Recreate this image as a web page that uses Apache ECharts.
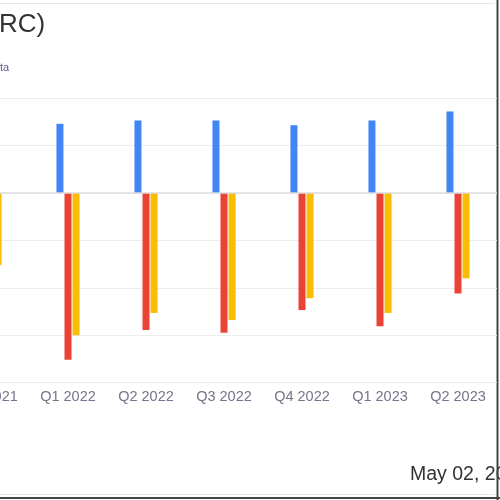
<!DOCTYPE html>
<html>
<head>
<meta charset="utf-8">
<script src="https://cdn.jsdelivr.net/npm/echarts@6/dist/echarts.min.js"></script>
<style>
html,body{margin:0;padding:0;background:#fff;overflow:hidden;width:500px;height:500px;position:relative;}
#chart{position:absolute;left:-49px;top:0;width:549px;height:500px;}
</style>
</head>
<body>
<div id="chart"></div>
<script>
var categories = ['Q4 2021', 'Q1 2022', 'Q2 2022', 'Q3 2022', 'Q4 2022', 'Q1 2023', 'Q2 2023'];
var blueValues = [1.45, 1.46, 1.53, 1.53, 1.43, 1.53, 1.72];
var redValues = [-1.9, -3.52, -2.89, -2.95, -2.47, -2.81, -2.12];
var yellowValues = [-1.52, -3.0, -2.53, -2.68, -2.22, -2.53, -1.80];
var yTicks = { min: -4, max: 2, interval: 1 };
var titleText = 'RC)';
var subtitleText = 'ta';
var dateText = 'May 02, 2024';

var OX = 49; // shift of the canvas to the left of the page
var font = 'Liberation Sans, Arial, sans-serif';
var chart = echarts.init(document.getElementById('chart'), null, { renderer: 'canvas' });
chart.setOption({
  animation: false,
  backgroundColor: '#fff',
  grid: { left: 0, right: 3, top: 98.2, bottom: 117.4, containLabel: false },
  xAxis: {
    type: 'category',
    data: categories,
    axisLine: { show: false, onZero: false },
    axisTick: { show: false },
    axisLabel: { interval: 0, color: '#74748a', fontSize: 14.5, margin: 7, fontFamily: font }
  },
  yAxis: {
    type: 'value',
    min: yTicks.min, max: yTicks.max, interval: yTicks.interval,
    axisLabel: { show: false },
    axisLine: { show: false },
    axisTick: { show: false },
    splitLine: { lineStyle: { color: '#ededed', width: 1 } }
  },
  series: [
    {
      type: 'bar', data: blueValues, barWidth: 7, barGap: '15%',
      itemStyle: { color: '#4285F4' },
      markLine: {
        silent: true, symbol: 'none', label: { show: false },
        lineStyle: { color: '#dcdcdc', type: 'solid', width: 1.5 },
        data: [{ yAxis: 0 }]
      }
    },
    { type: 'bar', data: redValues, barWidth: 7, barGap: '15%', itemStyle: { color: '#EA4335' } },
    { type: 'bar', data: yellowValues, barWidth: 7, barGap: '15%', itemStyle: { color: '#FBBC04' } }
  ],
  graphic: [
    { type: 'text', left: OX - 1, top: 12, style: { text: titleText, fontSize: 26, fill: '#333', fontFamily: font } },
    { type: 'text', left: OX, top: 62, style: { text: subtitleText, fontSize: 11, fill: '#5c5c88', fontFamily: font } },
    { type: 'text', left: OX + 410, top: 465, style: { text: dateText, fontSize: 19.5, fill: '#333', fontFamily: font } },
    { type: 'line', shape: { x1: OX, y1: 3.5, x2: OX + 495, y2: 3.5 }, style: { stroke: '#e6e6e6', lineWidth: 1 } },
    { type: 'line', shape: { x1: OX, y1: 494.5, x2: OX + 495, y2: 494.5 }, style: { stroke: '#e6e6e6', lineWidth: 1 } },
    { type: 'line', shape: { x1: OX, y1: 498, x2: OX + 500, y2: 498 }, style: { stroke: '#444', lineWidth: 2 } },
    { type: 'line', shape: { x1: OX + 497.5, y1: 0, x2: OX + 497.5, y2: 500 }, style: { stroke: '#444', lineWidth: 2 } }
  ]
});
</script>
</body>
</html>
